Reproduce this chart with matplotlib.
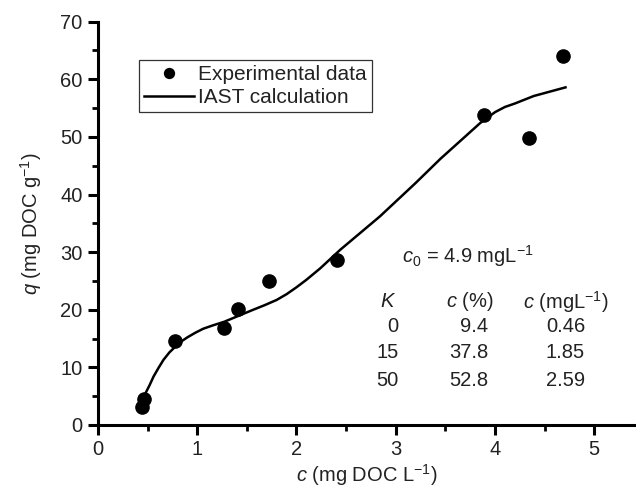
import matplotlib
matplotlib.use("Agg")
import matplotlib.pyplot as plt
import numpy as np

plt.rcParams['font.family'] = ['Liberation Sans', 'DejaVu Sans']
plt.rcParams['mathtext.fontset'] = 'custom'
plt.rcParams['mathtext.rm'] = 'Liberation Sans'
plt.rcParams['mathtext.it'] = 'Liberation Sans:italic'

# Experimental data
exp_c = [0.44, 0.46, 0.78, 1.27, 1.41, 1.72, 2.41, 3.89, 4.34, 4.68]
exp_q = [3.1, 4.5, 14.5, 16.9, 20.2, 25.0, 28.6, 53.8, 49.8, 64.1]

# IAST calculation curve
iast_c = [0.47, 0.52, 0.56, 0.61, 0.66, 0.72, 0.78, 0.84, 0.90, 0.98, 1.06, 1.16,
          1.27, 1.41, 1.55, 1.68, 1.80, 1.90, 2.00, 2.10, 2.24, 2.44, 2.84, 3.20,
          3.45, 3.65, 3.85, 4.00, 4.10, 4.20, 4.39, 4.71]
iast_q = [5.2, 6.9, 8.4, 9.9, 11.3, 12.6, 13.6, 14.5, 15.2, 16.0, 16.7, 17.3,
          17.9, 18.9, 19.9, 20.8, 21.7, 22.7, 23.9, 25.2, 27.2, 30.4, 36.2, 42.0,
          46.2, 49.3, 52.4, 54.3, 55.2, 55.8, 57.1, 58.6]

# Table text
table_K = ["0", "15", "50"]
table_pct = ["9.4", "37.8", "52.8"]
table_mgL = ["0.46", "1.85", "2.59"]

fig = plt.figure(figsize=(6.36, 4.93), dpi=100)
ax = fig.add_axes([0.154, 0.138, 0.846, 0.818])

ax.plot(exp_c, exp_q, 'o', color='black', markersize=9.5, label='Experimental data', zorder=3)
ax.plot(iast_c, iast_q, '-', color='black', linewidth=1.8, label='IAST calculation',
        zorder=2, solid_joinstyle='round')

ax.set_xlim(0, 5.42)
ax.set_ylim(0, 70)
ax.set_xticks([0, 1, 2, 3, 4, 5])
ax.set_yticks(np.arange(0, 71, 10))
ax.set_xticks(np.arange(0.5, 5.5, 1.0), minor=True)
ax.set_yticks(np.arange(5, 70, 10), minor=True)

for s in ['top', 'right']:
    ax.spines[s].set_visible(False)
for s in ['left', 'bottom']:
    ax.spines[s].set_linewidth(2.2)
ax.tick_params(which='major', direction='out', length=7, width=2.2, labelsize=14.5, pad=4,
               labelcolor='#222222')
ax.tick_params(which='minor', direction='out', length=4.5, width=2.0)

ax.set_xlabel(r'$c$ (mg DOC L$^{-1}$)', fontsize=14.5, labelpad=2, color='#222222')
ax.set_ylabel(r'$q$ (mg DOC g$^{-1}$)', fontsize=14.5, labelpad=12, color='#222222')

leg = ax.legend(loc='upper left', bbox_to_anchor=(0.076, 0.906), borderaxespad=0,
                fontsize=15, frameon=True, fancybox=False, handlelength=2.4,
                handletextpad=0.2, labelspacing=0.2, borderpad=0.25, numpoints=1,
                markerscale=0.75)
leg.get_frame().set_edgecolor('black')
leg.get_frame().set_linewidth(0.9)
for t in leg.get_texts():
    t.set_color('#222222')

fs = 14.5
tc = '#222222'
ax.text(3.06, 29.3, r'$c_0$ = 4.9 mgL$^{-1}$', fontsize=fs, ha='left', va='center', color=tc)
ax.text(2.92, 21.4, r'$K$', fontsize=fs, ha='center', va='center', color=tc)
ax.text(3.75, 21.4, r'$c$ (%)', fontsize=fs, ha='center', va='center', color=tc)
ax.text(4.71, 21.4, r'$c$ (mgL$^{-1}$)', fontsize=fs, ha='center', va='center', color=tc)
row_y = [17.1, 12.5, 7.8]
for k, p, m, yy in zip(table_K, table_pct, table_mgL, row_y):
    ax.text(3.03, yy, k, fontsize=fs, ha='right', va='center', color=tc)
    ax.text(3.93, yy, p, fontsize=fs, ha='right', va='center', color=tc)
    ax.text(4.71, yy, m, fontsize=fs, ha='center', va='center', color=tc)

fig.savefig('out.png', dpi=100)
